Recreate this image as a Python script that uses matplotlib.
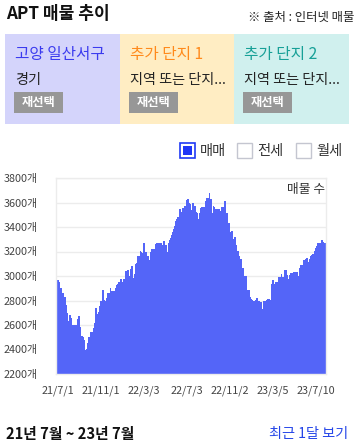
import numpy as np
import matplotlib
matplotlib.use('Agg')
import matplotlib.pyplot as plt
from matplotlib.patches import Rectangle

plt.rcParams['font.family'] = ['Noto Sans CJK KR', 'DejaVu Sans']

W, H = 358, 447

# listing counts, one value per sample
listings = [
    3023, 2971, 2971, 2955, 2898, 2898, 2865, 2865, 2825, 2825,
    2760, 2702, 2631, 2678, 2678, 2659, 2604, 2604, 2604, 2604,
    2596, 2653, 2670, 2670, 2582, 2512, 2512, 2501, 2474, 2398,
    2406, 2457, 2501, 2506, 2539, 2539, 2539, 2574, 2615, 2735,
    2735, 2686, 2705, 2757, 2800, 2800, 2882, 2882, 2808, 2800,
    2819, 2860, 2865, 2865, 2898, 2879, 2879, 2879, 2879, 2898,
    2923, 2931, 2950, 2950, 2977, 2977, 2955, 2977, 2977, 3037,
    3037, 3051, 3051, 2998, 3059, 3078, 3078, 2982, 3018, 3094,
    3105, 3167, 3167, 3167, 3208, 3200, 3186, 3273, 3273, 3194,
    3194, 3167, 3167, 3127, 3200, 3224, 3224, 3224, 3224, 3263,
    3268, 3268, 3268, 3268, 3268, 3268, 3249, 3282, 3282, 3249,
    3249, 3200, 3268, 3290, 3312, 3331, 3358, 3382, 3406, 3447,
    3467, 3480, 3480, 3548, 3548, 3526, 3556, 3556, 3575, 3575,
    3624, 3632, 3632, 3600, 3584, 3540, 3592, 3592, 3573, 3573,
    3526, 3513, 3467, 3513, 3553, 3562, 3567, 3567, 3567, 3616,
    3638, 3638, 3638, 3679, 3630, 3630, 3513, 3575, 3562, 3548,
    3548, 3548, 3548, 3548, 3534, 3567, 3567, 3567, 3616, 3616,
    3518, 3518, 3431, 3431, 3363, 3371, 3371, 3300, 3322, 3322,
    3249, 3208, 3208, 3165, 3137, 3137, 3064, 3064, 2999, 3004,
    3004, 2887, 2887, 2887, 2827, 2814, 2808, 2800, 2800, 2808,
    2822, 2822, 2792, 2792, 2786, 2786, 2732, 2792, 2792, 2792,
    2808, 2816, 2816, 2816, 2808, 2936, 2971, 2971, 2931, 2955,
    2955, 2955, 2988, 2988, 2988, 3020, 2990, 2990, 3053, 3045,
    3045, 3010, 2974, 3012, 3023, 3023, 3023, 3034, 3034, 3029,
    3029, 3029, 2999, 3064, 3088, 3088, 3088, 3132, 3132, 3140,
    3148, 3148, 3116, 3135, 3165, 3175, 3181, 3181, 3202, 3230,
    3241, 3268, 3268, 3268, 3268, 3290, 3290, 3276, 3268, 3268,
]
date_labels = ['21/7/1', '21/11/1', '22/3/3', '22/7/3', '22/11/2', '23/3/5', '23/7/10']
y_ticks = [2200, 2400, 2600, 2800, 3000, 3200, 3400, 3600, 3800]

panel_titles = ['고양 일산서구', '추가 단지 1', '추가 단지 2']
panel_subs = ['경기', '지역 또는 단지...', '지역 또는 단지...']
panel_bg = ['#d4d4fb', '#ffedc3', '#d0f0ee']
panel_fg = ['#3b3bef', '#ff8a1c', '#17a097']
legend_items = ['매매', '전세', '월세']


def fx(x):
    return x / W


def fy(y):
    return 1 - y / H


fig = plt.figure(figsize=(W / 100, H / 100), dpi=100)
fig.patch.set_facecolor('white')

# header
fig.text(fx(6), fy(14), 'APT 매물 추이', fontsize=12.3, weight='bold',
         color='#111111', va='center', ha='left')
fig.text(fx(354), fy(17), '※ 출처 : 인터넷 매물', fontsize=8.9,
         color='#222222', va='center', ha='right')

# region panels
pw = 114.7
for i in range(3):
    x0 = 5 + i * pw
    fig.patches.append(Rectangle((fx(x0), fy(124)), pw / W, 90 / H,
                                 transform=fig.transFigure,
                                 facecolor=panel_bg[i], edgecolor='none'))
    fig.text(fx(x0 + 10), fy(55), panel_titles[i], fontsize=11.3,
             color=panel_fg[i], va='center', ha='left')
    fig.text(fx(x0 + 10), fy(80), panel_subs[i], fontsize=10.2,
             color='#222222', va='center', ha='left')
    fig.patches.append(Rectangle((fx(x0 + 9), fy(113)), 49 / W, 21 / H,
                                 transform=fig.transFigure,
                                 facecolor='#979797', edgecolor='none'))
    fig.text(fx(x0 + 33.5), fy(102.5), '재선택', fontsize=8.8, weight='bold',
             color='white', va='center', ha='center')

# legend checkboxes
box_x = [180, 237, 296]
for i, label in enumerate(legend_items):
    bx = box_x[i]
    if i == 0:
        fig.patches.append(Rectangle((fx(bx), fy(157.5)), 14.5 / W, 14.5 / H,
                                     transform=fig.transFigure,
                                     facecolor='white', edgecolor='#1f3af5',
                                     linewidth=1.2))
        fig.patches.append(Rectangle((fx(bx + 2.5), fy(155)), 9.5 / W, 9.5 / H,
                                     transform=fig.transFigure,
                                     facecolor='#1f35f7', edgecolor='none'))
    else:
        fig.patches.append(Rectangle((fx(bx), fy(157.5)), 14.5 / W, 14.5 / H,
                                     transform=fig.transFigure,
                                     facecolor='white', edgecolor='#c4c6d0',
                                     linewidth=1.0))
    fig.text(fx(bx + 20), fy(150.5), label, fontsize=10.3,
             color='#333333', va='center', ha='left')

# chart
ax = fig.add_axes([fx(56), fy(374), 270 / W, 196 / H])
n = len(listings)
edges = np.arange(n + 1)
ax.stairs(listings, edges, baseline=2200, fill=True, color='#5465f8',
          linewidth=0)
ax.set_xlim(0, n)
ax.set_ylim(2200, 3800)
ax.set_yticks(y_ticks)
ax.set_yticklabels([f'{v}개' for v in y_ticks])
ax.grid(axis='y', color='#ececec', linewidth=1)
ax.set_axisbelow(True)

label_step = 43
ax.set_xticks([1.5 + i * label_step for i in range(len(date_labels))])
ax.set_xticklabels(date_labels)
ax.tick_params(axis='both', length=0, labelsize=7.8, colors='#444444')
ax.tick_params(axis='y', pad=13)
ax.tick_params(axis='x', pad=8)
for side in ['top', 'right', 'left', 'bottom']:
    ax.spines[side].set_color('#ececec')
    ax.spines[side].set_linewidth(1)
ax.text(0.998, 0.94, '매물 수', transform=ax.transAxes, fontsize=9.2,
        color='#333333', ha='right', va='center')

# footer
fig.text(fx(6), fy(434), '21년 7월 ~ 23년 7월', fontsize=10.6, weight='bold',
         color='#111111', va='center', ha='left')
fig.text(fx(348), fy(434), '최근 1달 보기', fontsize=10.2,
         color='#2445e8', va='center', ha='right')

fig.savefig('out.png', dpi=100, facecolor='white')
